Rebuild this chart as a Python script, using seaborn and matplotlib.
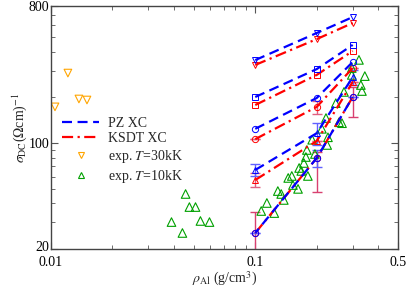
import numpy as np
import pandas as pd
import matplotlib
matplotlib.use("Agg")
import matplotlib.pyplot as plt
import matplotlib.transforms as mtransforms
import seaborn as sns
from matplotlib.lines import Line2D
from matplotlib.ticker import FixedLocator, NullFormatter

sns.set_theme(style="ticks")
plt.rcParams['font.family'] = ['Liberation Serif', 'DejaVu Serif']
plt.rcParams['mathtext.fontset'] = 'stix'

# ---------------- data ----------------
x_theory = [0.1, 0.2, 0.3]
# PZ XC (blue, dashed)
pz_tri_down = [352, 531, 676]
pz_square = [201, 307, 443]
pz_circle = [124, 198, 342]
pz_tri_up = [66.4, 116, 272]
pz_low = [25.5, 79.6, 201]
# KSDT XC (red, dash-dot)
ks_tri_down = [327, 484, 618]
ks_square = [178, 281, 404]
ks_circle = [106, 173, 312]
ks_tri_up = [57, 103, 252]
ks_low = [25.5, 79.6, 201]

# error bars (lower, upper)
pz_tri_up_err = [[6, 19, 30], [6, 19, 30]]
pz_low_err = [[0, 10, 0], [0, 10, 0]]
ks_tri_up_err = [[6, 0, 0], [6, 0, 0]]
ks_circle_err = [[0, 17, 0], [0, 17, 0]]
ks_low_err = [[9.5, 32, 53], [9.5, 8, 33]]

# experiment T=30kK
exp30_x = [0.01046, 0.0121, 0.0137, 0.0150]
exp30_y = [173, 289, 195, 192]
# experiment T=10kK
exp10_x = [0.0389, 0.0440, 0.0456, 0.0476, 0.0510, 0.0539, 0.0597,
           0.107, 0.114, 0.124, 0.129, 0.134, 0.138, 0.145, 0.151, 0.153,
           0.162, 0.164, 0.168, 0.173, 0.177, 0.181, 0.179, 0.190, 0.196,
           0.212, 0.222, 0.225, 0.227, 0.248, 0.257, 0.266, 0.272, 0.297,
           0.297, 0.322, 0.329, 0.333, 0.344]
exp10_y = [30.1, 25.5, 46.1, 37.8, 37.8, 30.6, 30.1,
           35.6, 40.2, 34.5, 48.2, 46.1, 42.1, 58.8, 60.6, 52.8,
           49.8, 68.4, 65.4, 73.8, 80.8, 60.6, 89.9, 105, 84.6,
           124, 146, 97, 109, 183, 137, 135, 217, 312,
           281, 353, 241, 220, 276]

BLUE = '#0000ff'
RED = '#ff0000'
ORANGE = '#ffa500'
GREEN = '#00a000'
DASH = (0, (4.5, 2.5))
DASHDOT = (0, (5, 2, 1, 2))

fig = plt.figure(figsize=(4.09, 2.89), dpi=100)
ax = fig.add_axes([51/409, 1-249/289, (398-51)/409, (249-6)/289])

def draw(ys, color, ls, marker, err=None, ecolor=None):
    df = pd.DataFrame({'x': x_theory, 'y': ys})
    sns.lineplot(data=df, x='x', y='y', ax=ax, color=color, linestyle=ls,
                 linewidth=1.6, marker=marker, markersize=4.5,
                 markerfacecolor='none', markeredgecolor=color,
                 markeredgewidth=0.7, estimator=None, sort=False, legend=False)
    if err is not None:
        ax.errorbar(x_theory, ys, yerr=np.array(err), fmt='none',
                    ecolor=ecolor, elinewidth=1.0, capsize=3.5, capthick=1.0,
                    zorder=1)

# red (KSDT) series
draw(ks_tri_down, RED, DASHDOT, 'v')
draw(ks_square, RED, DASHDOT, 's')
draw(ks_circle, RED, DASHDOT, 'o', ks_circle_err, '#e06080')
draw(ks_tri_up, RED, DASHDOT, '^', ks_tri_up_err, '#e06080')
draw(ks_low, RED, DASHDOT, 'o', ks_low_err, '#d84070')
# blue (PZ) series
draw(pz_tri_down, BLUE, DASH, 'v')
draw(pz_square, BLUE, DASH, 's')
draw(pz_circle, BLUE, DASH, 'o')
draw(pz_tri_up, BLUE, DASH, '^', pz_tri_up_err, '#6060ff')
draw(pz_low, BLUE, (2, (4.5, 2.5)), 'o', pz_low_err, '#6060ff')

# experiments
sns.scatterplot(x=exp30_x, y=exp30_y, ax=ax, marker='v', s=30,
                facecolor='none', edgecolor=ORANGE, linewidth=0.8, legend=False)
sns.scatterplot(x=exp10_x, y=exp10_y, ax=ax, marker='^', s=38,
                facecolor='none', edgecolor=GREEN, linewidth=0.8, legend=False)

ax.set_xscale('log')
ax.set_yscale('log')
ax.set_xlim(0.01, 0.5)
ax.set_ylim(20, 800)

ax.xaxis.set_major_locator(FixedLocator([0.01, 0.1, 0.5]))
ax.set_xticklabels(['0.01', '0.1', '0.5'])
ax.xaxis.set_minor_locator(FixedLocator([0.02, 0.03, 0.04, 0.05, 0.06, 0.07, 0.08, 0.09,
                                         0.2, 0.3, 0.4]))
ax.xaxis.set_minor_formatter(NullFormatter())
ax.yaxis.set_major_locator(FixedLocator([20, 100, 800]))
ax.set_yticklabels(['20', '100', '800'])
ax.yaxis.set_minor_locator(FixedLocator([30, 40, 50, 60, 70, 80, 90, 200, 300, 400, 500, 600, 700]))
ax.yaxis.set_minor_formatter(NullFormatter())

ax.tick_params(which='both', direction='in', top=True, right=True, colors='#555555',
               labelcolor='black', labelsize=10)
ax.tick_params(axis='x', which='major', pad=5)
ax.tick_params(axis='y', which='major', pad=1)
ax.tick_params(which='major', length=5, width=0.8)
ax.tick_params(which='minor', length=3, width=0.6)
for s in ax.spines.values():
    s.set_color('#444444')
    s.set_linewidth(1.0)

# nudge the bottom y label up slightly so it does not collide with "0.01"
lbl20 = ax.get_yticklabels()[0]
lbl20.set_transform(lbl20.get_transform() +
                    mtransforms.ScaledTranslation(0, 3/100, fig.dpi_scale_trans))

ax.set_xlabel(r'$\rho_{\rm Al}$ (g/cm$^3$)', fontsize=10, labelpad=1)
ax.set_ylabel(r'$\sigma_{\rm DC}$($\Omega$cm)$^{-1}$', fontsize=10, labelpad=0)

handles = [
    Line2D([], [], color=BLUE, linestyle=DASH, linewidth=1.6),
    Line2D([], [], color=RED, linestyle=DASHDOT, linewidth=1.6),
    Line2D([], [], color=ORANGE, marker='v', linestyle='none', markersize=5,
           markerfacecolor='none', markeredgewidth=0.8),
    Line2D([], [], color=GREEN, marker='^', linestyle='none', markersize=5,
           markerfacecolor='none', markeredgewidth=0.8),
]
labels = ['PZ XC', 'KSDT XC', r'exp. $T$=30kK', r'exp. $T$=10kK']
ax.legend(handles, labels, loc='upper left', bbox_to_anchor=(0.005, 0.585),
          frameon=False, fontsize=10, handlelength=2.6, handletextpad=0.7,
          labelspacing=0.2, borderpad=0.2)

fig.savefig('out.png', dpi=100)
